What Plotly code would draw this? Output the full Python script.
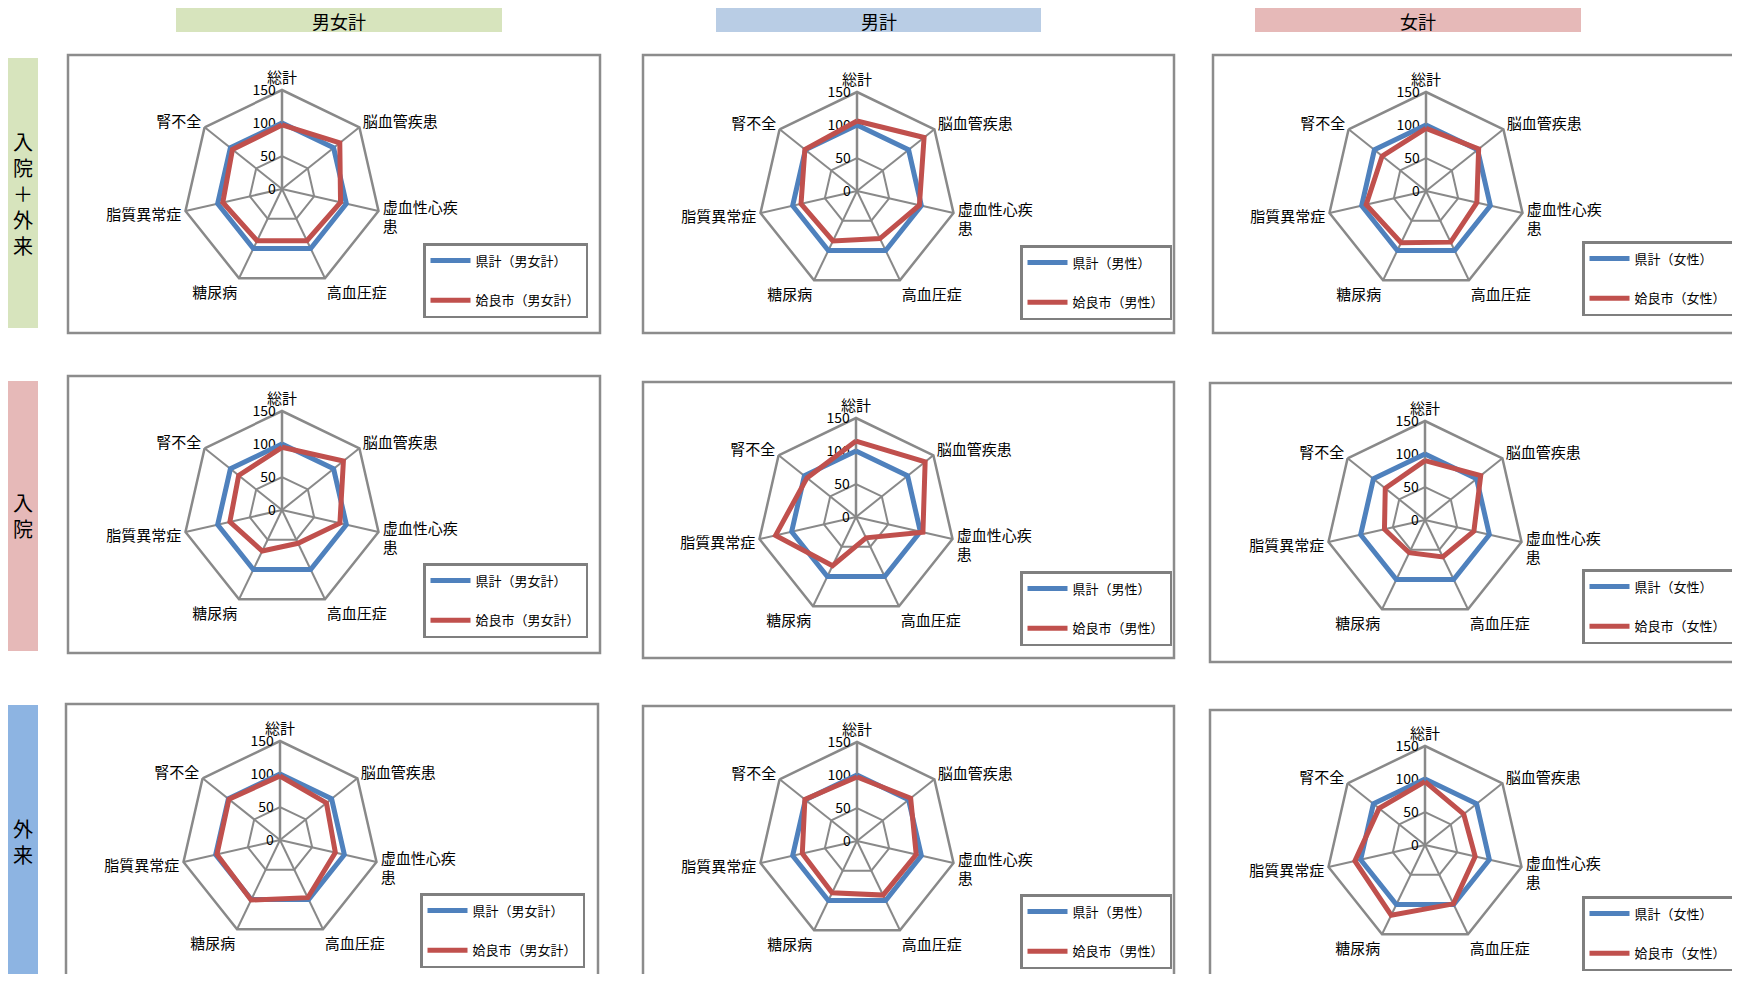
import plotly.graph_objects as go

# ---------------- data ----------------
categories = ["総計", "脳血管疾患", "虚血性心疾<br>患", "高血圧症", "糖尿病", "脂質異常症", "腎不全"]
radial_ticks = [0, 50, 100, 150]

column_titles = ["男女計", "男計", "女計"]
row_titles = ["入<br>院<br>＋<br>外<br>来", "入<br>院", "外<br>来"]
gender_labels = ["男女計", "男性", "女性"]

# 県計 (reference = 100)
ken_total_both = [100, 100, 100, 100, 100, 100, 100]
ken_total_male = [100, 100, 100, 100, 100, 100, 100]
ken_total_female = [100, 100, 100, 100, 100, 100, 100]
ken_inp_both = [100, 100, 100, 100, 100, 100, 100]
ken_inp_male = [100, 100, 100, 100, 100, 100, 100]
ken_inp_female = [100, 100, 100, 100, 100, 100, 100]
ken_out_both = [100, 100, 100, 100, 100, 100, 100]
ken_out_male = [100, 100, 100, 100, 100, 100, 100]
ken_out_female = [100, 100, 100, 100, 100, 100, 100]

# 姶良市
aira_total_both = [97, 112, 91, 87, 87, 92, 96]
aira_total_male = [106, 130, 97, 80, 84, 87, 101]
aira_total_female = [95, 102, 79, 86, 87, 93, 85]
aira_inp_both = [95, 119, 90, 56, 69, 81, 84]
aira_inp_male = [115, 134, 104, 35, 82, 125, 95]
aira_inp_female = [90, 108, 76, 62, 55, 63, 77]
aira_out_both = [97, 90, 86, 97, 101, 98, 99]
aira_out_male = [97, 104, 92, 91, 87, 85, 101]
aira_out_female = [96, 75, 78, 99, 118, 109, 89]

ken_series = [ken_total_both, ken_total_male, ken_total_female,
              ken_inp_both, ken_inp_male, ken_inp_female,
              ken_out_both, ken_out_male, ken_out_female]
aira_series = [aira_total_both, aira_total_male, aira_total_female,
               aira_inp_both, aira_inp_male, aira_inp_female,
               aira_out_both, aira_out_male, aira_out_female]

# ---------------- layout geometry (screen pixels) ----------------
OFF = 8                      # default page body margin (page = 1740 x 982 exactly)
W, H = 1740 - 2 * OFF, 982 - 2 * OFF
R = 99
centers = [(282, 189), (857, 191), (1426, 191),
           (282, 510), (856, 517), (1425, 520),
           (280, 840), (857, 841), (1425, 845)]
legend_pos = [(423, 243), (1020, 245), (1582, 241),
              (423, 563), (1020, 571), (1582, 569),
              (420, 893), (1020, 894), (1582, 896)]
# (x0, y0, x1, y1, right side visible)
frames = [(68, 55, 600, 333, True), (643, 55, 1174, 333, True), (1213, 55, 1740, 333, False),
          (68, 376, 600, 653, True), (643, 382, 1174, 658, True), (1210, 383, 1740, 662, False),
          (66, 704, 598, 979, True), (643, 706, 1174, 979, True), (1210, 710, 1740, 979, False)]
headers = [(176, 3, 502, 32, "#D7E4BD"), (716, 3, 1041, 32, "#B9CDE5"), (1255, 3, 1581, 32, "#E6B9B8")]
strips = [(7, 58, 38, 328, "#D7E4BD"), (7, 381, 38, 651, "#E6B9B8"), (7, 705, 38, 977, "#8DB4E2")]

FONT = "Noto Sans CJK JP"
GRID = "#898989"
BLUE = "#4F81BD"
RED = "#C0504D"

fig = go.Figure()
layout = dict(
    width=W, height=H, autosize=False,
    margin=dict(l=0, r=0, t=0, b=0, autoexpand=False),
    paper_bgcolor="white", plot_bgcolor="white",
    font=dict(family=FONT, color="black"),
    shapes=[], annotations=[],
)

def px(x):
    return (x - OFF) / W

def py(y):
    return 1 - (y - OFF) / H

theta = categories + [categories[0]]

for i in range(9):
    pid = "polar" if i == 0 else f"polar{i+1}"
    lid = "legend" if i == 0 else f"legend{i+1}"
    g = gender_labels[i % 3]
    kv = ken_series[i]
    av = aira_series[i]
    fig.add_trace(go.Scatterpolar(
        r=kv + [kv[0]], theta=theta, mode="lines",
        line=dict(color=BLUE, width=5), name=f"県計（{g}）",
        subplot=pid, legend=lid, legendgroup=f"k{i}", hoverinfo="skip"))
    fig.add_trace(go.Scatterpolar(
        r=av + [av[0]], theta=theta, mode="lines",
        line=dict(color=RED, width=5), name=f"姶良市（{g}）",
        subplot=pid, legend=lid, legendgroup=f"a{i}", hoverinfo="skip"))
    cx, cy = centers[i]
    layout[pid] = dict(
        domain=dict(x=[px(cx - R), px(cx + R)], y=[py(cy + R), py(cy - R)]),
        bgcolor="white",
        gridshape="linear",
        radialaxis=dict(range=[0, 150], tickvals=radial_ticks, angle=90, tickangle=90,
                        showline=True, linecolor=GRID, linewidth=2.5,
                        gridcolor=GRID, gridwidth=2.2, ticks="",
                        tickfont=dict(size=14, color="black", family=FONT),
                        side="counterclockwise", layer="below traces"),
        angularaxis=dict(direction="clockwise", rotation=90, type="category",
                         categoryorder="array", categoryarray=categories,
                         gridcolor=GRID, gridwidth=2.2, showline=True,
                         linecolor=GRID, linewidth=2.5, ticks="",
                         tickfont=dict(size=15, color="black", family=FONT),
                         layer="below traces"),
    )
    lx, ly = legend_pos[i]
    layout[lid] = dict(
        x=px(lx), y=py(ly), xanchor="left", yanchor="top",
        bordercolor="#7F7F7F", borderwidth=2.5, bgcolor="white",
        font=dict(size=13, color="black", family=FONT),
        tracegroupgap=20, itemwidth=40, traceorder="grouped",
    )

# chart frames (open on the right where the page cuts them)
for (x0, y0, x1, y1, closed) in frames:
    a, b, c, d = px(x0), px(x1), py(y0), py(y1)
    if closed:
        path = f"M{a},{c} L{b},{c} L{b},{d} L{a},{d} Z"
    else:
        path = f"M{b},{c} L{a},{c} L{a},{d} L{b},{d}"
    layout["shapes"].append(dict(type="path", xref="paper", yref="paper", path=path,
                                 line=dict(color="#8C8C8C", width=2.5), layer="below"))

# headers
for (x0, y0, x1, y1, col), title in zip(headers, column_titles):
    layout["shapes"].append(dict(type="rect", xref="paper", yref="paper",
                                 x0=px(x0), x1=px(x1), y0=py(y1), y1=py(y0),
                                 line=dict(width=0), fillcolor=col, layer="below"))
    layout["annotations"].append(dict(x=px((x0 + x1) / 2), y=py((max(y0, OFF) + y1) / 2 + 1),
                                      xref="paper", yref="paper", text=title,
                                      xanchor="center", yanchor="middle",
                                      showarrow=False, font=dict(size=18, color="black", family=FONT)))

# row strips
for (x0, y0, x1, y1, col), title in zip(strips, row_titles):
    layout["shapes"].append(dict(type="rect", xref="paper", yref="paper",
                                 x0=px(x0), x1=px(x1), y0=py(y1), y1=py(y0),
                                 line=dict(width=0), fillcolor=col, layer="below"))
    layout["annotations"].append(dict(x=px((x0 + x1) / 2), y=py((y0 + y1) / 2),
                                      xref="paper", yref="paper", text=title,
                                      xanchor="center", yanchor="middle",
                                      showarrow=False,
                                      font=dict(size=20, color="black", family=FONT)))

fig.update_layout(**layout)
fig.write_html("out.html", config={"responsive": False, "displayModeBar": False})
